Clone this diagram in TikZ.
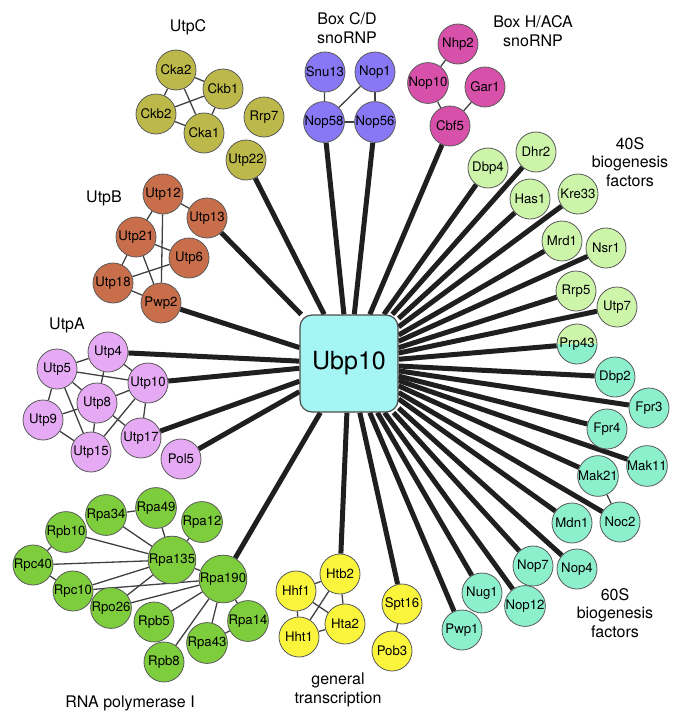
\documentclass[tikz,border=0pt]{standalone}
\usepackage{fontspec}
\setmainfont{TeX Gyre Heros}
\usetikzlibrary{backgrounds}
\definecolor{colC}{HTML}{BCB84A}
\definecolor{colCD}{HTML}{8878F5}
\definecolor{colHA}{HTML}{D750AA}
\definecolor{colB}{HTML}{C86E4B}
\definecolor{colA}{HTML}{E6AAF5}
\definecolor{colS40}{HTML}{CDF5AA}
\definecolor{colS60}{HTML}{8CF0CD}
\definecolor{colPol}{HTML}{7DCD3C}
\definecolor{colGT}{HTML}{FAF53C}
\definecolor{colHub}{HTML}{A5F5F5}
\begin{document}
\begin{tikzpicture}[x=1pt,y=-1pt,
  prot/.style={circle, draw=black!65, line width=0.8pt, minimum size=40pt, inner sep=0pt,
    font=\fontsize{13.2}{15}\selectfont},
  pC/.style={prot, fill=colC},
  pCD/.style={prot, fill=colCD},
  pHA/.style={prot, fill=colHA},
  pB/.style={prot, fill=colB},
  pA/.style={prot, fill=colA},
  p40/.style={prot, fill=colS40},
  p60/.style={prot, fill=colS60},
  pPol/.style={prot, fill=colPol},
  pGT/.style={prot, fill=colGT},
  grplabel/.style={align=center, font=\fontsize{16}{18.5}\selectfont, inner sep=0pt},
  hubedge/.style={line width=5pt, draw=black!88},
  thinedge/.style={line width=1.3pt, draw=black!75}]
\useasboundingbox (0,0) rectangle (673,715);

% hub
\node[draw=black!70, line width=1.2pt, fill=colHub, rounded corners=12pt,
  minimum width=98pt, minimum height=97pt, inner sep=0pt,
  font=\fontsize{25}{28}\selectfont] (Ubp10) at (349,363.5) {Ubp10};

% UtpC
\node[pC] (Cka2) at (176,70) {Cka2};
\node[pC] (Ckb1) at (223,89) {Ckb1};
\node[pC] (Ckb2) at (156,114) {Ckb2};
\node[pC] (Cka1) at (204,133) {Cka1};
\node[pC] (Rrp7) at (264,117) {Rrp7};
\node[pC] (Utp22) at (246,160) {Utp22};

% Box C/D
\node[pCD] (Snu13) at (325,72) {Snu13};
\node[pCD] (Nop1) at (375,72) {Nop1};
\node[pCD] (Nop58) at (324,122) {Nop58};
\node[pCD] (Nop56) at (375,122) {Nop56};

% Box H/ACA
\node[pHA] (Nhp2) at (458,44) {Nhp2};
\node[pHA] (Nop10) at (428,83) {Nop10};
\node[pHA] (Gar1) at (485,87) {Gar1};
\node[pHA] (Cbf5) at (450,126) {Cbf5};

% 40S
\node[p40] (Dbp4) at (488,168) {Dbp4};
\node[p40] (Dhr2) at (536,152) {Dhr2};
\node[p40] (Has1) at (530,199) {Has1};
\node[p40] (Kre33) at (578,194) {Kre33};
\node[p40] (Mrd1) at (562,241) {Mrd1};
\node[p40] (Nsr1) at (606,248) {Nsr1};
\node[p40] (Rrp5) at (576,291) {Rrp5};
\node[p40] (Utp7) at (617,307) {Utp7};
\node[prot, fill=colS40, path picture={\fill[colS60] (path picture bounding box.west) rectangle (path picture bounding box.south east);}] (Prp43) at (577,344) {Prp43};

% 60S
\node[p60] (Dbp2) at (615,377) {Dbp2};
\node[p60] (Fpr3) at (649,408) {Fpr3};
\node[p60] (Fpr4) at (607,429) {Fpr4};
\node[p60] (Mak11) at (647,466) {Mak11};
\node[p60] (Mak21) at (598,476) {Mak21};
\node[p60] (Noc2) at (620,522) {Noc2};
\node[p60] (Mdn1) at (572,523) {Mdn1};
\node[p60] (Nop4) at (577,569) {Nop4};
\node[p60] (Nop7) at (533,566) {Nop7};
\node[p60] (Nop12) at (525,606) {Nop12};
\node[p60] (Nug1) at (482,593) {Nug1};
\node[p60] (Pwp1) at (462,630) {Pwp1};

% general transcription
\node[pGT] (Hhf1) at (296,591) {Hhf1};
\node[pGT] (Htb2) at (340,574) {Htb2};
\node[pGT] (Hta2) at (345,624) {Hta2};
\node[pGT] (Hht1) at (299,637) {Hht1};
\node[pGT] (Spt16) at (402,604) {Spt16};
\node[pGT] (Pob3) at (392,651) {Pob3};

% RNA polymerase I
\node[pPol] (Rpa34) at (106,515) {Rpa34};
\node[pPol] (Rpa49) at (156,508) {Rpa49};
\node[pPol] (Rpa12) at (202,522) {Rpa12};
\node[pPol] (Rpb10) at (66,532) {Rpb10};
\node[pPol] (Rpa135) at (172,560) {Rpa135};
\node[pPol] (Rpc40) at (33,565) {Rpc40};
\node[pPol] (Rpa190) at (223,579) {Rpa190};
\node[pPol] (Rpc10) at (73,591) {Rpc10};
\node[pPol] (Rpo26) at (111,608) {Rpo26};
\node[pPol] (Rpb5) at (154,622) {Rpb5};
\node[pPol] (Rpa14) at (248,621) {Rpa14};
\node[pPol] (Rpa43) at (207,643) {Rpa43};
\node[pPol] (Rpb8) at (164,662) {Rpb8};

% UtpB
\node[pB] (Utp12) at (163,194) {Utp12};
\node[pB] (Utp13) at (207,218) {Utp13};
\node[pB] (Utp21) at (136,237) {Utp21};
\node[pB] (Utp6) at (189,258) {Utp6};
\node[pB] (Utp18) at (113,283) {Utp18};
\node[pB] (Pwp2) at (161,303) {Pwp2};

% UtpA
\node[pA] (Utp4) at (108,352) {Utp4};
\node[pA] (Utp5) at (57,369) {Utp5};
\node[pA] (Utp10) at (148,383) {Utp10};
\node[pA] (Utp8) at (97,403) {Utp8};
\node[pA] (Utp9) at (43,420) {Utp9};
\node[pA] (Utp17) at (141,438) {Utp17};
\node[pA] (Utp15) at (91,452) {Utp15};
\node[pA] (Pol5) at (181,459) {Pol5};

% group labels
\node[grplabel] (lC) at (188,27) {UtpC};
\node[grplabel] (lCD) at (347,28) {Box C/D\\snoRNP};
\node[grplabel] (lHA) at (533,31) {Box H/ACA\\snoRNP};
\node[grplabel] (l40) at (630,162) {40S\\biogenesis\\factors};
\node[grplabel] (lB) at (104,198) {UtpB};
\node[grplabel] (lA) at (67,325) {UtpA};
\node[grplabel] (l60) at (615,613) {60S\\biogenesis\\factors};
\node[grplabel] (lGT) at (338,690) {general\\transcription};
\node[grplabel] (lPol) at (130,703) {RNA polymerase I};

\begin{pgfonlayer}{background}
% hub edges
\foreach \n in {Utp22,Nop58,Nop56,Cbf5,Dbp4,Dhr2,Has1,Kre33,Mrd1,Nsr1,Rrp5,Utp7,Prp43,
  Dbp2,Fpr3,Fpr4,Mak11,Mak21,Noc2,Mdn1,Nop4,Nop7,Nop12,Nug1,Pwp1,Htb2,Spt16,Rpa190,
  Pol5,Utp17,Utp10,Utp4,Pwp2,Utp13}
  \draw[hubedge] (Ubp10) -- (\n);
% complex edges
\foreach \a/\b in {Cka2/Ckb1,Cka2/Ckb2,Cka2/Cka1,Ckb2/Ckb1,Ckb2/Cka1,Ckb1/Cka1,
  Snu13/Nop58,Nop1/Nop58,Nop1/Nop56,Nop58/Nop56,
  Nhp2/Nop10,Nop10/Cbf5,Gar1/Cbf5,
  Mak21/Noc2,
  Hhf1/Htb2,Hhf1/Hht1,Hhf1/Hta2,Htb2/Hht1,Htb2/Hta2,Hht1/Hta2,Spt16/Pob3,
  Rpa34/Rpa49,Rpa34/Rpa135,Rpa49/Rpa135,Rpa12/Rpa135,Rpb10/Rpa135,Rpb10/Rpc40,
  Rpc40/Rpa135,Rpc40/Rpc10,Rpc10/Rpa135,Rpc10/Rpa190,Rpo26/Rpa135,Rpo26/Rpa190,
  Rpa135/Rpa190,Rpb5/Rpa190,Rpa14/Rpa190,Rpa43/Rpa190,Rpb8/Rpa190,Rpa14/Rpa43,
  Utp12/Utp13,Utp12/Utp21,Utp12/Pwp2,Utp21/Utp6,Utp21/Utp18,Utp21/Pwp2,Utp18/Utp6,Utp18/Pwp2,
  Utp5/Utp4,Utp5/Utp10,Utp5/Utp9,Utp5/Utp8,Utp5/Utp15,Utp4/Utp10,Utp4/Utp8,Utp10/Utp8,
  Utp10/Utp17,Utp10/Utp15,Utp8/Utp9,Utp8/Utp15,Utp8/Utp17,Utp9/Utp15}
  \draw[thinedge] (\a) -- (\b);
\end{pgfonlayer}
\end{tikzpicture}
\end{document}
